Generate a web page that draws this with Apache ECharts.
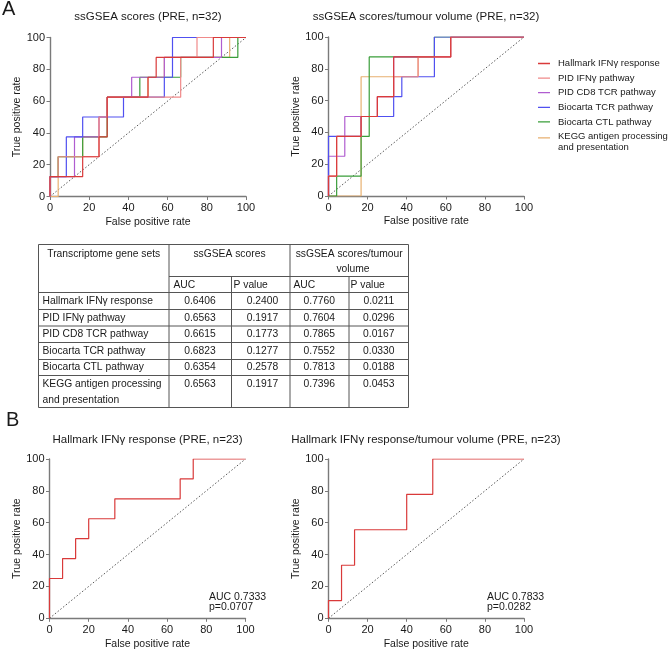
<!DOCTYPE html>
<html>
<head>
<meta charset="utf-8">
<title>ROC curves</title>
<script src="https://cdn.jsdelivr.net/npm/echarts@6/dist/echarts.min.js"></script>
<style>
html, body { margin: 0; padding: 0; background: #fff; }
#chart { width: 669px; height: 651px; }
</style>
</head>
<body>
<div id="chart"></div>
<script>
// gene sets, in legend / table order
var geneSets = [
  "Hallmark IFNγ response",
  "PID IFNγ pathway",
  "PID CD8 TCR pathway",
  "Biocarta TCR pathway",
  "Biocarta CTL pathway",
  "KEGG antigen processing\nand presentation"
];
var setColors = ["#d93a3a", "#f08a8a", "#b05cd0", "#5050f0", "#3a9e3a", "#e8b070"];

// ROC step vertices [FPR %, TPR %] -- ssGSEA scores (PRE, n=32)
var rocScores = [
  [[0,0],[0,12.5],[16.67,12.5],[16.67,25],[25,25],[25,37.5],[29.17,37.5],[29.17,62.5],[50,62.5],[50,75],[54.17,75],[54.17,87.5],[83.33,87.5],[83.33,100],[100,100]],
  [[0,0],[0,12.5],[4.17,12.5],[4.17,25],[25,25],[25,50],[29.17,50],[29.17,62.5],[66.67,62.5],[66.67,87.5],[75,87.5],[75,100],[100,100]],
  [[0,0],[0,12.5],[12.5,12.5],[12.5,37.5],[25,37.5],[25,50],[29.17,50],[29.17,62.5],[41.67,62.5],[41.67,75],[58.33,75],[58.33,87.5],[87.5,87.5],[87.5,100],[100,100]],
  [[0,0],[0,12.5],[8.33,12.5],[8.33,37.5],[16.67,37.5],[16.67,50],[37.5,50],[37.5,62.5],[58.33,62.5],[58.33,75],[62.5,75],[62.5,100],[100,100]],
  [[0,0],[0,12.5],[4.17,12.5],[4.17,25],[16.67,25],[16.67,37.5],[29.17,37.5],[29.17,62.5],[45.83,62.5],[45.83,75],[66.67,75],[66.67,87.5],[95.83,87.5],[95.83,100],[100,100]],
  [[0,0],[4.17,0],[4.17,25],[16.67,25],[16.67,37.5],[25,37.5],[25,50],[29.17,50],[29.17,62.5],[50,62.5],[50,75],[58.33,75],[58.33,87.5],[91.67,87.5],[91.67,100],[100,100]]
];

// ssGSEA scores/tumour volume (PRE, n=32)
var rocScoresVol = [
  [[0,0],[0,12.5],[4.17,12.5],[4.17,37.5],[16.67,37.5],[16.67,50],[25,50],[25,62.5],[33.33,62.5],[33.33,87.5],[62.5,87.5],[62.5,100],[100,100]],
  [[0,0],[0,12.5],[4.17,12.5],[4.17,37.5],[16.67,37.5],[16.67,50],[25,50],[25,62.5],[33.33,62.5],[33.33,75],[45.83,75],[45.83,87.5],[62.5,87.5],[62.5,100],[100,100]],
  [[0,0],[0,25],[8.33,25],[8.33,50],[25,50],[25,62.5],[33.33,62.5],[33.33,87.5],[62.5,87.5],[62.5,100],[100,100]],
  [[0,0],[0,37.5],[16.67,37.5],[16.67,50],[33.33,50],[33.33,62.5],[37.5,62.5],[37.5,75],[54.17,75],[54.17,100],[100,100]],
  [[0,0],[4.17,0],[4.17,12.5],[16.67,12.5],[16.67,37.5],[20.83,37.5],[20.83,87.5],[54.17,87.5],[54.17,100],[100,100]],
  [[0,0],[16.67,0],[16.67,75],[45.83,75],[45.83,87.5],[62.5,87.5],[62.5,100],[100,100]]
];

// panel B: Hallmark IFNγ response (PRE, n=23)
var rocHallmark = [[0,0],[0,25],[6.67,25],[6.67,37.5],[13.33,37.5],[13.33,50],[20,50],[20,62.5],[33.33,62.5],[33.33,75],[66.67,75],[66.67,87.5],[73.33,87.5],[73.33,100],[100,100]];
var rocHallmarkVol = [[0,0],[0,11.1],[6.67,11.1],[6.67,33.3],[13.33,33.3],[13.33,55.6],[40,55.6],[40,77.8],[53.33,77.8],[53.33,100],[100,100]];
var refLine = [[0,0],[100,100]];

var plotTitles = [
  "ssGSEA scores (PRE, n=32)",
  "ssGSEA scores/tumour volume (PRE, n=32)",
  "Hallmark IFNγ response (PRE, n=23)",
  "Hallmark IFNγ response/tumour volume (PRE, n=23)"
];
var aucNotes = ["AUC 0.7333\np=0.0707", "AUC 0.7833\np=0.0282"];

// table
var tableRows = ["Hallmark IFNγ response", "PID IFNγ pathway", "PID CD8 TCR pathway", "Biocarta TCR pathway", "Biocarta CTL pathway", "KEGG antigen processing\nand presentation"];
var aucScores = ["0.6406", "0.6563", "0.6615", "0.6823", "0.6354", "0.6563"];
var pScores = ["0.2400", "0.1917", "0.1773", "0.1277", "0.2578", "0.1917"];
var aucScoresVol = ["0.7760", "0.7604", "0.7865", "0.7552", "0.7813", "0.7396"];
var pScoresVol = ["0.0211", "0.0296", "0.0167", "0.0330", "0.0188", "0.0453"];

var FONT = "'Liberation Sans', Arial, sans-serif";
var TXT = "#1a1a1a";
var AX = "#7a7a7a";

var myChart = echarts.init(document.getElementById("chart"));

var gridBoxes = [
  { left: 50, top: 37.5, width: 196, height: 159 },
  { left: 328.5, top: 37, width: 195.5, height: 159 },
  { left: 49.5, top: 459, width: 196, height: 159.3 },
  { left: 328.5, top: 459, width: 195.5, height: 159.3 }
];

function makeAxis(i, isX) {
  return {
    type: "value",
    gridIndex: i,
    min: 0,
    max: 100,
    interval: 20,
    name: isX ? "False positive rate" : "True positive rate",
    nameLocation: "middle",
    nameGap: isX ? 20 : 26,
    nameTextStyle: { fontFamily: FONT, fontSize: 10.5, color: TXT },
    axisLine: { show: true, onZero: false, lineStyle: { color: AX, width: 1.4 } },
    axisTick: { show: true, inside: false, length: 3.5, lineStyle: { color: AX, width: 1 } },
    axisLabel: { show: true, margin: isX ? 6 : 5, fontFamily: FONT, fontSize: 11, color: TXT },
    splitLine: { show: false }
  };
}

var grids = [], xAxes = [], yAxes = [];
for (var g = 0; g < 4; g++) {
  grids.push(Object.assign({ containLabel: false }, gridBoxes[g]));
  xAxes.push(makeAxis(g, true));
  yAxes.push(makeAxis(g, false));
}

function curve(name, data, color, gi, z) {
  return {
    name: name,
    type: "line",
    xAxisIndex: gi,
    yAxisIndex: gi,
    data: data,
    symbol: "none",
    silent: true,
    z: z,
    lineStyle: { color: color, width: 1.2 },
    itemStyle: { color: color }
  };
}

function diagonal(gi) {
  return {
    type: "line",
    xAxisIndex: gi,
    yAxisIndex: gi,
    data: refLine,
    symbol: "none",
    silent: true,
    z: 1,
    lineStyle: { color: "#444", width: 0.9, type: [1.5, 2] }
  };
}

var series = [];
for (var g2 = 0; g2 < 4; g2++) series.push(diagonal(g2));
// draw Hallmark last so it sits on top
var drawOrder = [5, 4, 2, 3, 1, 0];
drawOrder.forEach(function (s, n) {
  series.push(curve(geneSets[s], rocScores[s], setColors[s], 0, 2 + n));
  series.push(curve(geneSets[s], rocScoresVol[s], setColors[s], 1, 2 + n));
});
series.push(curve("Hallmark B", rocHallmark, setColors[0], 2, 3));
series.push(curve("Hallmark B vol", rocHallmarkVol, setColors[0], 3, 3));

// graphic: titles, panel letters, notes, table
var graphics = [];
function txt(x, y, s, opt) {
  opt = opt || {};
  graphics.push({
    type: "text",
    x: x,
    y: y,
    silent: true,
    style: {
      text: s,
      font: (opt.weight || "normal") + " " + (opt.size || 11) + "px " + FONT,
      fill: opt.color || TXT,
      align: opt.align || "left",
      textAlign: opt.align || "left",
      verticalAlign: "middle",
      textVerticalAlign: "middle",
      lineHeight: opt.lh || 12
    }
  });
}
function hline(x1, x2, y) {
  graphics.push({ type: "line", silent: true, shape: { x1: x1, y1: y, x2: x2, y2: y }, style: { stroke: "#555", lineWidth: 1 } });
}
function vline(x, y1, y2) {
  graphics.push({ type: "line", silent: true, shape: { x1: x, y1: y1, x2: x, y2: y2 }, style: { stroke: "#555", lineWidth: 1 } });
}

txt(2, 9, "A", { size: 20 });
txt(6, 420, "B", { size: 20 });
txt(148, 17, plotTitles[0], { align: "center", size: 11.5 });
txt(426, 17, plotTitles[1], { align: "center", size: 11.5 });
txt(147.5, 439.5, plotTitles[2], { align: "center", size: 11.5 });
txt(426, 439.5, plotTitles[3], { align: "center", size: 11.5 });
txt(209, 602, aucNotes[0], { size: 10.5, lh: 10.5 });
txt(487, 602, aucNotes[1], { size: 10.5, lh: 10.5 });

// table grid
var colX = [38.5, 169, 231.5, 290, 349, 408.5];
var tTop = 244.5, tHead = 276.5, tBot = 407.5;
var rowY = [292.5, 309.5, 326, 342.5, 359.5, 375.5, 407.5];
hline(colX[0], colX[5], tTop);
hline(colX[1], colX[5], tHead);
for (var r = 0; r < rowY.length; r++) hline(colX[0], colX[5], rowY[r]);
vline(colX[0], tTop, tBot);
vline(colX[1], tTop, tBot);
vline(colX[3], tTop, tBot);
vline(colX[5], tTop, tBot);
vline(colX[2], tHead, tBot);
vline(colX[4], tHead, tBot);

var TS = 10.3;
txt(103.7, 254, "Transcriptome gene sets", { align: "center", size: TS });
txt(229.5, 254, "ssGSEA scores", { align: "center", size: TS });
txt(349.2, 254, "ssGSEA scores/tumour", { align: "center", size: TS });
txt(353, 269.5, "volume", { align: "center", size: TS });
txt(173.5, 285, "AUC", { size: TS });
txt(233.5, 285, "P value", { size: TS });
txt(293.5, 285, "AUC", { size: TS });
txt(350.5, 285, "P value", { size: TS });

var rowText = [301.5, 318, 334.5, 351, 367, 384];
for (var i = 0; i < tableRows.length; i++) {
  var lines = tableRows[i].split("\n");
  txt(42.5, rowText[i], lines[0], { size: TS });
  if (lines[1]) txt(42.5, rowText[i] + 16, lines[1], { size: TS });
  txt(200, rowText[i], aucScores[i], { align: "center", size: TS });
  txt(262.5, rowText[i], pScores[i], { align: "center", size: TS });
  txt(319.3, rowText[i], aucScoresVol[i], { align: "center", size: TS });
  txt(378.8, rowText[i], pScoresVol[i], { align: "center", size: TS });
}

// legend line icons: a 12x10 box with a thin bar (middle, or top for the two-line item)
var barMid = "path://M0,0L0.05,0L0,0.05Z M11.95,10L12,10L12,9.95Z M0,4.35L12,4.35L12,5.65L0,5.65Z";
var barTop = "path://M0,0L0.05,0L0,0.05Z M11.95,10L12,10L12,9.95Z M0,0.2L12,0.2L12,1.5L0,1.5Z";
var legendData = geneSets.map(function (name) {
  return { name: name, icon: name.indexOf("\n") >= 0 ? barTop : barMid };
});

var option = {
  animation: false,
  backgroundColor: "#ffffff",
  legend: {
    data: legendData,
    orient: "vertical",
    left: 538,
    top: 58,
    itemWidth: 12,
    itemHeight: 10,
    itemGap: 3.6,
    padding: 0,
    selectedMode: false,
    symbolKeepAspect: false,
    itemStyle: { borderWidth: 0 },
    textStyle: { fontFamily: FONT, fontSize: 9.5, color: TXT, lineHeight: 11, padding: [0, 0, 0, 3] }
  },
  grid: grids,
  xAxis: xAxes,
  yAxis: yAxes,
  series: series,
  graphic: graphics
};

myChart.setOption(option);
</script>
</body>
</html>
